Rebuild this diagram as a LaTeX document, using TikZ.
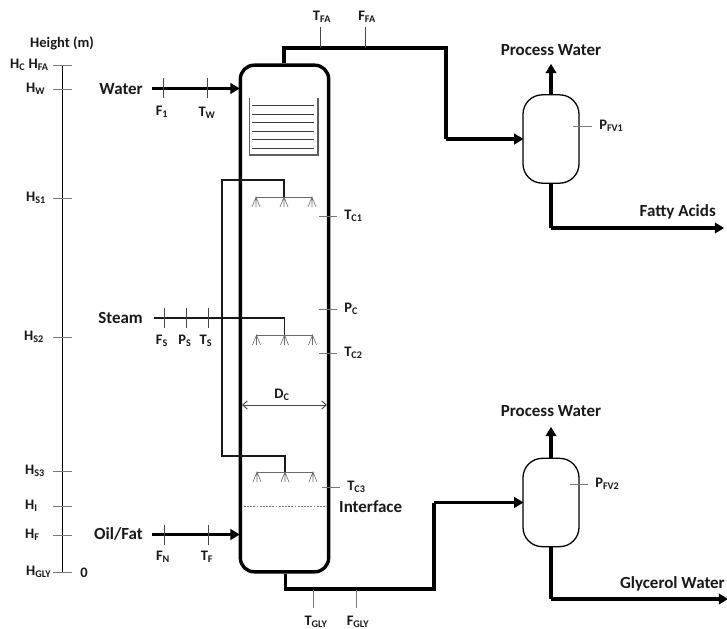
\documentclass[tikz,border=0pt]{standalone}
\usepackage{fontspec}
\setmainfont{Carlito}
\usetikzlibrary{positioning,arrows.meta,calc}
\definecolor{inkc}{RGB}{25,25,25}
\definecolor{tickc}{RGB}{120,120,120}
\newcommand{\lsub}[1]{\textsubscript{#1}}
\begin{document}
\begin{tikzpicture}[
  x=0.03cm, y=-0.03cm,
  tag/.style={font=\fontsize{12.4pt}{14pt}\bfseries, text=inkc, inner sep=0pt},
  stream/.style={font=\fontsize{14.5pt}{16pt}\bfseries, text=inkc, inner sep=0pt},
  vessel/.style={draw=black, line width=2.9pt, rounded corners=0.42cm, minimum width=2.65cm, minimum height=15.2cm, inner sep=0pt},
  drum/.style={draw=black, line width=1.1pt, rounded corners=0.58cm, minimum width=1.68cm, minimum height=2.65cm, inner sep=0pt},
  pipe/.style={draw=black, line width=2.6pt, line join=miter},
  feed/.style={pipe, -{Triangle[length=8pt,width=9pt]}, shorten >=-1pt},
  steamline/.style={draw=inkc, line width=1.2pt},
  tick/.style={draw=tickc, line width=0.6pt},
  dtick/.style={draw=inkc!80, line width=0.6pt},
  header/.style={draw=inkc!65, line width=0.8pt},
  nozzle/.pic={\draw[header, line width=0.5pt] (-4,10) -- (0,0) -- (4,10) (0,0) -- (0,10);},
]
\useasboundingbox (0,0) rectangle (727,629);

% ---- column and flash vessels ----
\node[vessel] (column) at (284.5,318.5) {};
\node[drum] (drum1) at (551,139) {};
\node[drum] (drum2) at (551,502.5) {};

% ---- height axis ----
\node[tag, anchor=west] (hTitle) at (30,43) {Height (m)};
\coordinate (axT) at (62.5,65);
\coordinate (axB) at (62.5,572);
\draw[draw=black, line width=1pt] (axT) -- (axB);
\foreach \n/\y/\lx/\lab in {c/65/10/H\lsub{C} H\lsub{FA},w/89/26/H\lsub{W},s1/198/26/H\lsub{S1},s2/337/24/H\lsub{S2},s3/471/25/H\lsub{S3},i/506/25/H\lsub{I},f/535/25/H\lsub{F},gly/572/26/H\lsub{GLY}}{
  \node[tag, anchor=west] (h\n) at (\lx,\y) {\lab};
  \coordinate (h\n L) at (53,\y);
  \coordinate (h\n R) at (72,\y);
  \draw[tick] (h\n L) -- (h\n R);
}
\node[tag, anchor=center] (zero) at (84,573) {0};

% ---- top and bottom product lines ----
\coordinate (topA) at (284,48);
\coordinate (topB) at (446,48);
\coordinate (topC) at (446,139);
\draw[pipe] (column.north -| topA) -- (topA) -- (topB) -- (topC);
\draw[feed] (topC) -- (drum1.west |- topC);
\coordinate (botA) at (285.5,589);
\coordinate (botB) at (434,589);
\coordinate (botC) at (434,502.5);
\draw[pipe] (column.south -| botA) -- (botA) -- (botB) -- (botC);
\draw[feed] (botC) -- (drum2.west);

% ---- vessel outlets ----
\coordinate (pw1) at (551,65);
\coordinate (pw2) at (551,428);
\draw[feed] (drum1.north) -- (pw1);
\draw[feed] (drum2.north) -- (pw2);
\coordinate (fa1) at (551,228);
\coordinate (fa2) at (723,228);
\draw[pipe] (drum1.south) -- (fa1);
\draw[feed] (fa1) -- (fa2);
\coordinate (gw1) at (551,599);
\coordinate (gw2) at (727,599);
\draw[pipe] (drum2.south) -- (gw1);
\draw[feed] (gw1) -- (gw2);
\node[stream] (pwText1) at (551,50) {Process Water};
\node[stream] (pwText2) at (551,411) {Process Water};
\node[stream, anchor=east] (faText) at (716,212) {Fatty Acids};
\node[stream, anchor=east] (gwText) at (725,584) {Glycerol Water};

% ---- feeds ----
\node[stream, anchor=east] (waterText) at (143,89) {Water};
\node[stream, anchor=east] (oilText) at (143,534) {Oil/Fat};
\node[stream, anchor=east] (steamText) at (143,318) {Steam};
\coordinate (waterIn) at (152,88.5);
\coordinate (oilIn) at (152,534.5);
\draw[feed] (waterIn) -- (column.west |- waterIn);
\draw[feed] (oilIn) -- (column.west |- oilIn);

% ---- steam distribution ----
\coordinate (steamIn) at (154,318);
\coordinate (s1) at (222,180);
\coordinate (s2) at (284,180);
\coordinate (s3) at (284,197);
\coordinate (s4) at (222,456);
\coordinate (s5) at (285,456);
\coordinate (s6) at (285,472);
\coordinate (s7) at (284.5,318);
\coordinate (s8) at (284.5,335);
\draw[steamline] (s3) -- (s2) -- (s1) -- (s4) -- (s5) -- (s6);
\draw[steamline] (steamIn) -- (s7) -- (s8);
\foreach \hy/\hx in {197/284,335/284.5,472/285}{
  \coordinate (hdL) at (\hx-28,\hy);
  \coordinate (hdR) at (\hx+28,\hy);
  \draw[header] (hdL) -- (hdR);
  \foreach \dx in {-28,0,28}
    \pic at (\hx+\dx,\hy) {nozzle};
}

% ---- trays ----
\coordinate (trayA) at (249.5,98);
\coordinate (trayB) at (249.5,155);
\coordinate (trayC) at (318,155);
\coordinate (trayD) at (318,98);
\draw[draw=inkc!70, line width=0.9pt] (trayA) -- (trayB) -- (trayC) -- (trayD);
\foreach \y in {105,114,122,131,139,148}{
  \coordinate (trL) at (252,\y);
  \coordinate (trR) at (314,\y);
  \draw[draw=inkc!85, line width=0.7pt] (trL) -- (trR);
}

% ---- interface and diameter ----
\coordinate (ifL) at (244,506);
\coordinate (ifR) at (326,506);
\draw[draw=tickc, line width=0.4pt, dash pattern=on 1.5pt off 1.2pt] (ifL) -- (ifR);
\node[stream, anchor=west] (ifText) at (339,507) {Interface};
\coordinate (dcL) at (242,405);
\coordinate (dcR) at (327,405);
\draw[draw=inkc!80, line width=0.8pt, {Straight Barb[length=4pt,width=7pt]}-{Straight Barb[length=4pt,width=7pt]}] (dcL) -- (dcR);
\node[tag] (dcText) at (282,395) {D\lsub{C}};

% ---- measurement points on lines ----
\foreach \n/\x/\y/\lx/\ly/\lab in {
  fone/163/88.5/162/112/F\lsub{1},tw/207/88.5/207/113/T\lsub{W},
  fs/164/318/162/341/F\lsub{S},ps/186/318/185/341/P\lsub{S},ts/208/318/206/341/T\lsub{S},
  fn/164/534.5/163/557/F\lsub{N},tf/208/534.5/207/557/T\lsub{F}}{
  \coordinate (\n A) at (\x,\y-10);
  \coordinate (\n B) at (\x,\y+10);
  \draw[dtick] (\n A) -- (\n B);
  \node[tag] (\n) at (\lx,\ly) {\lab};
}
\foreach \n/\x/\y/\lx/\ly/\lab in {
  tfa/320/27/322/17/T\lsub{FA},ffa/365/27/367/17/F\lsub{FA}}{
  \coordinate (\n A) at (\x,\y);
  \coordinate (\n B) at (\x,48);
  \draw[dtick] (\n A) -- (\n B);
  \node[tag] (\n) at (\lx,\ly) {\lab};
}
\foreach \n/\x/\lx/\lab in {tgly/313/316/T\lsub{GLY},fgly/356/358/F\lsub{GLY}}{
  \coordinate (\n A) at (\x,590);
  \coordinate (\n B) at (\x,608);
  \draw[tick] (\n A) -- (\n B);
  \node[tag] (\n) at (\lx,622) {\lab};
}
\foreach \n/\xa/\xb/\y/\lab in {
  tcone/319/337/216/T\lsub{C1},pc/319/337/309/P\lsub{C},tctwo/319/337/353/T\lsub{C2},tcthree/322/340/487/T\lsub{C3},
  pfvone/573/592/126/P\lsub{FV1},pfvtwo/570/588/484/P\lsub{FV2}}{
  \coordinate (\n A) at (\xa,\y);
  \coordinate (\n B) at (\xb,\y);
  \draw[tick] (\n A) -- (\n B);
  \node[tag, right=6pt of \n B] (\n) {\lab};
}

\end{tikzpicture}
\end{document}
